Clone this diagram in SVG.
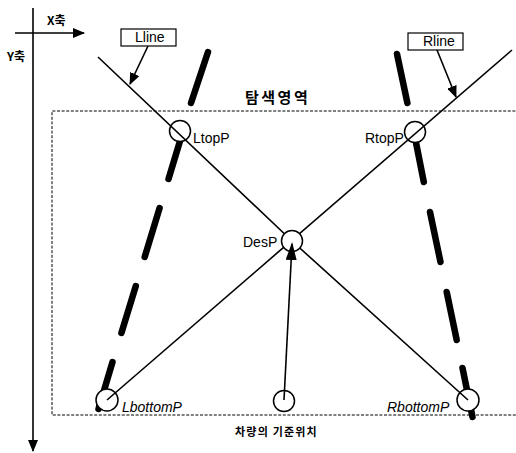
<svg xmlns="http://www.w3.org/2000/svg" width="516" height="453" viewBox="0 0 516 453">
<style>
  .lane{stroke:#000;stroke-width:6.5;stroke-linecap:round;fill:none}
  .ln{stroke:#000;stroke-width:1.6;fill:none}
  .pt{fill:#fff;stroke:#000;stroke-width:1.5}
  .dash{stroke:#000;stroke-width:1;stroke-dasharray:3 1.6;fill:none}
  .lbl{font-family:"Liberation Sans",Arial,sans-serif;font-size:14px;fill:#000}
  .it{font-style:italic}
  .ko{font-family:"Noto Sans CJK KR","Noto Sans",sans-serif;fill:#000;font-weight:bold}
  .box{fill:#fff;stroke:#000;stroke-width:1.2}
</style>
<defs>
  <marker id="ah" markerUnits="userSpaceOnUse" markerWidth="12" markerHeight="10" refX="11" refY="5" orient="auto">
    <path d="M0,0 L12,5 L0,10 Z" fill="#000"/>
  </marker>
  <marker id="ahBig" markerUnits="userSpaceOnUse" markerWidth="18" markerHeight="11" refX="16" refY="5.5" orient="auto">
    <path d="M0,0 L18,5.5 L0,11 Z" fill="#000"/>
  </marker>
</defs>
<rect width="516" height="453" fill="#fff"/>

<g id="axes">
  <line class="ln" x1="15" y1="33" x2="84" y2="33" stroke-width="1.4" marker-end="url(#ah)"/>
  <line class="ln" x1="33" y1="8" x2="33" y2="451" stroke-width="1.4" marker-end="url(#ah)"/>
  <text class="ko" x="47" y="25" font-size="12">X축</text>
  <text class="ko" x="7" y="61" font-size="12">Y축</text>
</g>

<g id="search-area">
  <path class="dash" d="M520,111 H52 V415 H520"/>
  <text class="ko" x="245" y="103" font-size="15" letter-spacing="2.5">탐색영역</text>
</g>

<g id="lanes">
  <line class="lane" x1="208" y1="52" x2="191" y2="103"/>
  <line class="lane" x1="180" y1="141" x2="168.5" y2="179"/>
  <line class="lane" x1="159.6" y1="208" x2="144.7" y2="257"/>
  <line class="lane" x1="135.8" y1="286" x2="121.4" y2="333"/>
  <line class="lane" x1="112.5" y1="362" x2="98.5" y2="409"/>
  <line class="lane" x1="397" y1="54" x2="407.4" y2="103"/>
  <line class="lane" x1="415.7" y1="141" x2="423.8" y2="182"/>
  <line class="lane" x1="430" y1="212" x2="440.5" y2="262"/>
  <line class="lane" x1="446.7" y1="292" x2="456.7" y2="340"/>
  <line class="lane" x1="462.5" y1="368" x2="472.5" y2="417"/>
</g>

<g id="LtopP"><circle class="pt" cx="180" cy="131" r="10.5"/><text class="lbl" x="193" y="143">LtopP</text></g>
<g id="RtopP"><circle class="pt" cx="415" cy="132" r="10.5"/><text class="lbl" x="365" y="143">RtopP</text></g>
<g id="LbottomP"><circle class="pt" cx="107" cy="400" r="11"/><text class="lbl it" x="122" y="412">LbottomP</text></g>
<g id="RbottomP"><circle class="pt" cx="468" cy="400" r="11"/><text class="lbl it" x="387" y="412">RbottomP</text></g>
<g id="vehicle"><circle class="pt" cx="284" cy="401" r="10.5"/><text class="ko" x="235" y="436" font-size="11" font-weight="normal" letter-spacing="1.2">차량의 기준위치</text></g>

<g id="Lline-label"><rect class="box" x="121" y="29" width="55" height="17"/><text class="lbl" x="135" y="42" font-size="13">Lline</text></g>
<g id="Rline-label"><rect class="box" x="408" y="33" width="55" height="17"/><text class="lbl" x="423" y="46" font-size="13">Rline</text></g>

<g id="connectors">
  <polyline class="ln" points="98,57 292,241 468,400"/>
  <line class="ln" x1="512" y1="50" x2="107" y2="400"/>
  <line class="ln" x1="148" y1="46" x2="130" y2="84" stroke-width="1.3" marker-end="url(#ah)"/>
  <line class="ln" x1="437" y1="50" x2="456" y2="97" stroke-width="1.3" marker-end="url(#ah)"/>
</g>

<g id="DesP"><circle class="pt" cx="292" cy="241" r="10.5"/><text class="lbl" x="243" y="247">DesP</text></g>

<g id="connectors-arrow">
  <line class="ln" x1="284" y1="400" x2="292" y2="244" stroke-width="2.6" marker-end="url(#ahBig)"/>
</g>
</svg>
